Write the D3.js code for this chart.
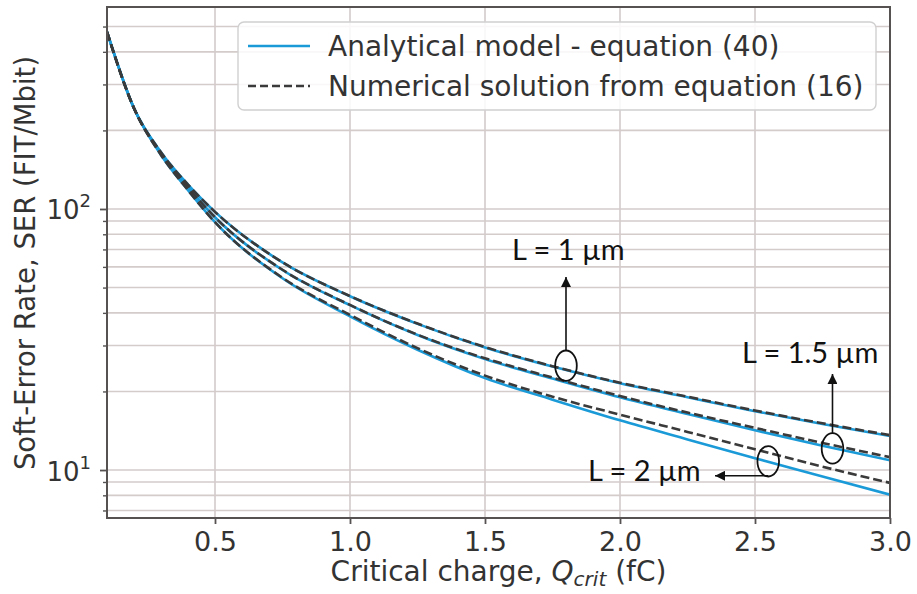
<!DOCTYPE html>
<html>
<head>
<meta charset="utf-8">
<script src="https://cdn.jsdelivr.net/npm/d3@7"></script>
<style>
  html, body { margin: 0; padding: 0; background: #ffffff; }
  svg { display: block; }
</style>
</head>
<body>
<svg id="chart" width="917" height="594"></svg>
<script>
// ---- data ----
const qCrit = [0.1, 0.2, 0.3, 0.4, 0.5, 0.75, 1.0, 1.25, 1.5, 1.75, 2.0, 2.25, 2.5, 2.75, 3.0];

const numericalL1    = [477, 243, 165, 124, 97.5, 62.5, 46.4, 36.4, 29.6, 25.0, 21.6, 19.1, 16.9, 15.1, 13.6];
const analyticalL1   = [477, 243, 165, 124, 97.5, 62.4, 46.3, 36.3, 29.5, 24.9, 21.5, 19.0, 16.8, 15.0, 13.5];
const numericalL15   = [477, 243, 163, 121, 93, 58.5, 42.9, 33.0, 26.8, 22.6, 19.2, 16.6, 14.5, 12.7, 11.2];
const analyticalL15  = [477, 243, 163, 121, 93, 58.4, 42.8, 32.9, 26.6, 22.4, 19.0, 16.4, 14.2, 12.4, 10.9];
const numericalL2    = [477, 243, 161, 118, 89, 54.5, 39.3, 29.3, 23.0, 19.1, 16.3, 14.0, 12.0, 10.3, 8.93];
const analyticalL2   = [477, 243, 161, 118, 89, 54.3, 38.8, 28.9, 22.5, 18.6, 15.5, 13.1, 11.1, 9.45, 8.05];

const xTicks = [0.5, 1.0, 1.5, 2.0, 2.5, 3.0];
const yMajorTicks = [10, 100];
const yMajorExponents = ["1", "2"];
const yMinorTicks = [7, 8, 9, 20, 30, 40, 50, 60, 70, 80, 90, 200, 300, 400, 500];

const legendLabels = ["Analytical model - equation (40)", "Numerical solution from equation (16)"];

const annotationLabels = ["L = 1 µm", "L = 1.5 µm", "L = 2 µm"];

// ---- layout ----
const svg = d3.select("#chart");
const plot = { left: 107, right: 890, top: 7, bottom: 518 };
const x = d3.scaleLinear().domain([0.1, 3.0]).range([plot.left, plot.right]);
const y = d3.scaleLog().domain([6.55, 594]).range([plot.bottom, plot.top]);

const gridColor = "#d4cbcb";
const spineColor = "#565252";
const blue = "#1b9ad8";
const dashColor = "#3a3a3a";
const mainFont = "'DejaVu Sans', sans-serif";
const annFont = "Lato, 'Open Sans', sans-serif";

// grid
const grid = svg.append("g");
grid.selectAll("line.gx").data(xTicks).join("line")
  .attr("x1", d => x(d)).attr("x2", d => x(d))
  .attr("y1", plot.top).attr("y2", plot.bottom)
  .attr("stroke", gridColor).attr("stroke-width", 1.6);
grid.selectAll("line.gy").data(yMajorTicks.concat(yMinorTicks)).join("line")
  .attr("x1", plot.left).attr("x2", plot.right)
  .attr("y1", d => y(d)).attr("y2", d => y(d))
  .attr("stroke", gridColor).attr("stroke-width", 1.6);

// curves
svg.append("clipPath").attr("id", "clip").append("rect")
  .attr("x", plot.left).attr("y", plot.top)
  .attr("width", plot.right - plot.left).attr("height", plot.bottom - plot.top);

const line = d3.line()
  .x((d, i) => x(qCrit[i]))
  .y(d => y(d))
  .curve(d3.curveMonotoneX);

const curves = svg.append("g").attr("clip-path", "url(#clip)");
[analyticalL1, analyticalL15, analyticalL2].forEach(s => {
  curves.append("path").attr("d", line(s))
    .attr("fill", "none").attr("stroke", blue).attr("stroke-width", 2.6);
});
[numericalL1, numericalL15, numericalL2].forEach(s => {
  curves.append("path").attr("d", line(s))
    .attr("fill", "none").attr("stroke", dashColor).attr("stroke-width", 2.6)
    .attr("stroke-dasharray", "9,4");
});

// axes
const xAxis = d3.axisBottom(x).tickValues(xTicks).tickFormat(d3.format(".1f")).tickSize(6).tickPadding(6);
const gx = svg.append("g").attr("transform", `translate(0,${plot.bottom})`).call(xAxis);
gx.select(".domain").remove();
gx.selectAll(".tick line").attr("stroke", spineColor).attr("stroke-width", 1.8);
gx.selectAll(".tick text").attr("font-family", mainFont).attr("font-size", 27).attr("fill", "#333")
  .attr("dy", null).attr("y", 33);

const yAxisMinor = d3.axisLeft(y).tickValues(yMinorTicks).tickFormat("").tickSize(4);
const gym = svg.append("g").attr("transform", `translate(${plot.left},0)`).call(yAxisMinor);
gym.select(".domain").remove();
gym.selectAll(".tick line").attr("stroke", spineColor).attr("stroke-width", 1.4);

const yAxisMajor = d3.axisLeft(y).tickValues(yMajorTicks).tickFormat("").tickSize(7);
const gy = svg.append("g").attr("transform", `translate(${plot.left},0)`).call(yAxisMajor);
gy.select(".domain").remove();
gy.selectAll(".tick line").attr("stroke", spineColor).attr("stroke-width", 1.8);
gy.selectAll(".tick").each(function(d, i) {
  const t = d3.select(this).append("text")
    .attr("x", -16).attr("y", 10)
    .attr("text-anchor", "end")
    .attr("font-family", mainFont).attr("font-size", 26).attr("fill", "#333");
  t.append("tspan").text("10");
  t.append("tspan").attr("font-size", 18).attr("dy", -12).text(yMajorExponents[i]);
});

// spines
svg.append("rect")
  .attr("x", plot.left).attr("y", plot.top)
  .attr("width", plot.right - plot.left).attr("height", plot.bottom - plot.top)
  .attr("fill", "none").attr("stroke", spineColor).attr("stroke-width", 2);

// axis labels
const xl = svg.append("text")
  .attr("x", (plot.left + plot.right) / 2).attr("y", 581)
  .attr("text-anchor", "middle")
  .attr("font-family", mainFont).attr("font-size", 28).attr("fill", "#333");
xl.append("tspan").text("Critical charge, ");
xl.append("tspan").attr("font-style", "italic").text("Q");
xl.append("tspan").attr("font-style", "italic").attr("font-size", 20).attr("dy", 5).text("crit");
xl.append("tspan").attr("dy", -5).text(" (fC)");

svg.append("text")
  .attr("transform", `translate(35,263) rotate(-90)`)
  .attr("text-anchor", "middle")
  .attr("font-family", mainFont).attr("font-size", 27.5).attr("fill", "#333")
  .text("Soft-Error Rate, SER (FIT/Mbit)");

// legend
const lg = svg.append("g");
lg.append("rect").attr("x", 238).attr("y", 22).attr("width", 638).attr("height", 88)
  .attr("rx", 6).attr("fill", "#ffffff").attr("fill-opacity", 0.85)
  .attr("stroke", "#d0d0d0").attr("stroke-width", 1.4);
const legendStyles = [{ c: blue, dash: null }, { c: dashColor, dash: "8,4" }];
legendLabels.forEach((lab, i) => {
  const yy = 46 + i * 40;
  lg.append("line").attr("x1", 248).attr("x2", 310).attr("y1", yy).attr("y2", yy)
    .attr("stroke", legendStyles[i].c).attr("stroke-width", 2.6)
    .attr("stroke-dasharray", legendStyles[i].dash);
  lg.append("text").attr("x", 328).attr("y", yy + 10)
    .attr("font-family", mainFont).attr("font-size", 28).attr("fill", "#333").text(lab);
});

// annotations (ellipse anchors in data coordinates)
const annAnchors = [
  { q: 1.8, v: 25.1 },
  { q: 2.787, v: 12.1 },
  { q: 2.549, v: 10.8 }
];
svg.append("defs").append("marker")
  .attr("id", "arrow").attr("viewBox", "0 0 10 10")
  .attr("refX", 10).attr("refY", 5)
  .attr("markerWidth", 10).attr("markerHeight", 10)
  .attr("markerUnits", "userSpaceOnUse")
  .attr("orient", "auto")
  .append("path").attr("d", "M0,0 L10,5 L0,10 Z").attr("fill", "#111");

const ann = svg.append("g");
annAnchors.forEach(a => {
  ann.append("ellipse").attr("cx", x(a.q)).attr("cy", y(a.v))
    .attr("rx", 10.8).attr("ry", 15.2)
    .attr("fill", "none").attr("stroke", "#111").attr("stroke-width", 1.8);
});
// arrow L=1 (up)
ann.append("line")
  .attr("x1", x(annAnchors[0].q)).attr("x2", x(annAnchors[0].q))
  .attr("y1", y(annAnchors[0].v) - 15.2).attr("y2", 277)
  .attr("stroke", "#111").attr("stroke-width", 1.6).attr("marker-end", "url(#arrow)");
// arrow L=1.5 (up)
ann.append("line")
  .attr("x1", x(annAnchors[1].q)).attr("x2", x(annAnchors[1].q))
  .attr("y1", y(annAnchors[1].v) - 15).attr("y2", 374)
  .attr("stroke", "#111").attr("stroke-width", 1.6).attr("marker-end", "url(#arrow)");
// arrow L=2 (left)
ann.append("line")
  .attr("x1", x(annAnchors[2].q)).attr("x2", 715)
  .attr("y1", y(annAnchors[2].v) + 14.5).attr("y2", y(annAnchors[2].v) + 14.5)
  .attr("stroke", "#111").attr("stroke-width", 1.6).attr("marker-end", "url(#arrow)");

const annText = [
  { x: 512, y: 260 },
  { x: 742, y: 363 },
  { x: 588, y: 481 }
];
annotationLabels.forEach((t, i) => {
  ann.append("text").attr("x", annText[i].x).attr("y", annText[i].y)
    .attr("font-family", annFont).attr("font-size", 29).attr("fill", "#111").text(t);
});
</script>
</body>
</html>
